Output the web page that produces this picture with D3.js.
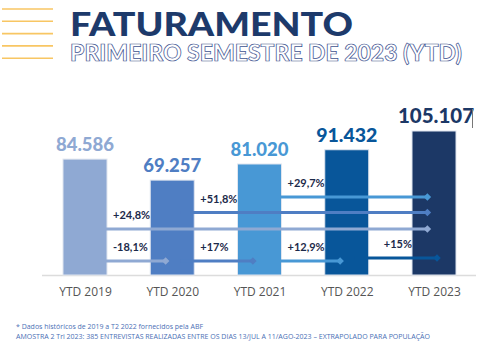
<!DOCTYPE html>
<html>
<head>
<meta charset="utf-8">
<script src="https://cdn.jsdelivr.net/npm/d3@7"></script>
<style>
  body { margin: 0; background: #fff; }
  svg { display: block; }
</style>
</head>
<body>
<div id="chart"></div>
<script>
const width = 482;
const height = 351;

// data
const years = ["YTD 2019", "YTD 2020", "YTD 2021", "YTD 2022", "YTD 2023"];
const values = [84.586, 69.257, 81.02, 91.432, 105.107];
const valueLabels = ["84.586", "69.257", "81.020", "91.432", "105.107"];
const barColors = ["#8fa9d3", "#4f7ec3", "#4898d5", "#08569a", "#1c3866"];

// growth arrows: from bar, to bar, label, lane (0 = highest)
const growthFrom = [2, 1, 0, 0, 1, 2, 3];
const growthTo = [4, 4, 4, 1, 2, 3, 4];
const growthLabels = ["+29,7%", "+51,8%", "+24,8%", "-18,1%", "+17%", "+12,9%", "+15%"];
const growthLane = [0, 1, 2, 3, 3, 3, 3];

const titleText = "FATURAMENTO";
const subtitleText = "PRIMEIRO SEMESTRE DE 2023 (YTD)";
const notes = [
  "* Dados históricos de 2019 a T2 2022 fornecidos pela ABF",
  "AMOSTRA 2 Tri 2023: 385 ENTREVISTAS REALIZADAS ENTRE OS DIAS 13/JUL A 11/AGO-2023 – EXTRAPOLADO PARA POPULAÇÃO"
];

const svg = d3.select("#chart").append("svg")
  .attr("width", width)
  .attr("height", height);

// yellow stripes at the left of the title
svg.selectAll("line.stripe")
  .data(d3.range(5))
  .enter().append("line")
  .attr("x1", 2).attr("x2", 53)
  .attr("y1", (i) => 9 + i * 12.3)
  .attr("y2", (i) => 9 + i * 12.3)
  .attr("stroke", "#f8c663")
  .attr("stroke-width", 1.6);

svg.append("text")
  .attr("x", 70).attr("y", 36)
  .attr("textLength", 283)
  .attr("lengthAdjust", "spacingAndGlyphs")
  .style("font", "900 33px Lato, sans-serif")
  .attr("fill", "#1d3a6b")
  .text(titleText);

svg.append("text")
  .attr("x", 70).attr("y", 61)
  .attr("textLength", 392)
  .attr("lengthAdjust", "spacingAndGlyphs")
  .style("font", "900 22px Lato, sans-serif")
  .attr("fill", "#fff")
  .attr("stroke", "#3d5290")
  .attr("stroke-width", 0.7)
  .text(subtitleText);

const x = d3.scalePoint().domain(years).range([85, 434]);
const barW = 44;
const y = d3.scaleLinear().domain([0, 105.107]).range([275, 131]);

// baseline
svg.append("line")
  .attr("x1", 42).attr("x2", 476)
  .attr("y1", 275.5).attr("y2", 275.5)
  .attr("stroke", "#dcdcdc")
  .attr("stroke-width", 1.5);

svg.selectAll("rect.bar")
  .data(values)
  .enter().append("rect")
  .attr("class", "bar")
  .attr("x", (d, i) => x(years[i]) - barW / 2)
  .attr("y", (d) => y(d))
  .attr("width", barW)
  .attr("height", (d) => y(0) - y(d))
  .attr("fill", (d, i) => barColors[i])
  .attr("stroke", "#dfe5ef")
  .attr("stroke-width", 1);

const labelSizes = [18.5, 18.5, 18.5, 19.5, 20.5];
svg.selectAll("text.val")
  .data(values)
  .enter().append("text")
  .attr("x", (d, i) => x(years[i]) + (i === 4 ? 2 : 0))
  .attr("y", (d) => y(d) - 8)
  .attr("text-anchor", "middle")
  .style("font", (d, i) => `900 ${labelSizes[i]}px Lato, sans-serif`)
  .attr("fill", (d, i) => barColors[i])
  .text((d, i) => valueLabels[i]);

// text cursor left in the original image
svg.append("line")
  .attr("x1", 472.5).attr("x2", 472.5)
  .attr("y1", 109).attr("y2", 128)
  .attr("stroke", "#777").attr("stroke-width", 1);

// growth arrows
const laneY = [197, 212.5, 229, 261];
const growth = growthLabels.map((label, i) => ({
  label,
  from: growthFrom[i],
  to: growthTo[i],
  lane: growthLane[i],
  color: barColors[growthFrom[i]]
}));

const diamond = d3.symbol().type(d3.symbolDiamond2).size(36);

growth.forEach((g) => {
  const ly = laneY[g.lane] - (g.from === 3 ? 3 : 0);
  const x0 = x(years[g.from]) + 8;
  const x1 = x(years[g.to]) - (g.from === 3 ? -3 : barW * 0.15);
  svg.append("line")
    .attr("x1", x0).attr("x2", x1)
    .attr("y1", ly).attr("y2", ly)
    .attr("stroke", g.color)
    .attr("stroke-width", 3);
  svg.append("path")
    .attr("d", diamond)
    .attr("transform", `translate(${x1},${ly})`)
    .attr("fill", g.color);
  svg.append("text")
    .attr("x", x(years[g.from]) + barW / 2 + (g.from === 3 ? 15 : 6))
    .attr("y", ly - 10)
    .style("font", "700 11px Lato, sans-serif")
    .attr("fill", "#1c2a4a")
    .text(g.label);
});

// x axis labels
svg.append("g")
  .attr("transform", "translate(0,275)")
  .call(d3.axisBottom(x).tickSize(0).tickPadding(12))
  .call((g) => g.select(".domain").remove())
  .selectAll("text")
  .style("font", "400 12px 'Open Sans', sans-serif")
  .attr("fill", "#555");

// footnotes
svg.selectAll("text.note")
  .data(notes)
  .enter().append("text")
  .attr("x", 16)
  .attr("y", (d, i) => 329 + i * 10)
  .attr("textLength", (d, i) => (i === 0 ? 187 : 414))
  .attr("lengthAdjust", "spacingAndGlyphs")
  .style("font", "400 7.5px 'Open Sans', sans-serif")
  .attr("fill", "#4a6fb5")
  .text((d) => d);
</script>
</body>
</html>
